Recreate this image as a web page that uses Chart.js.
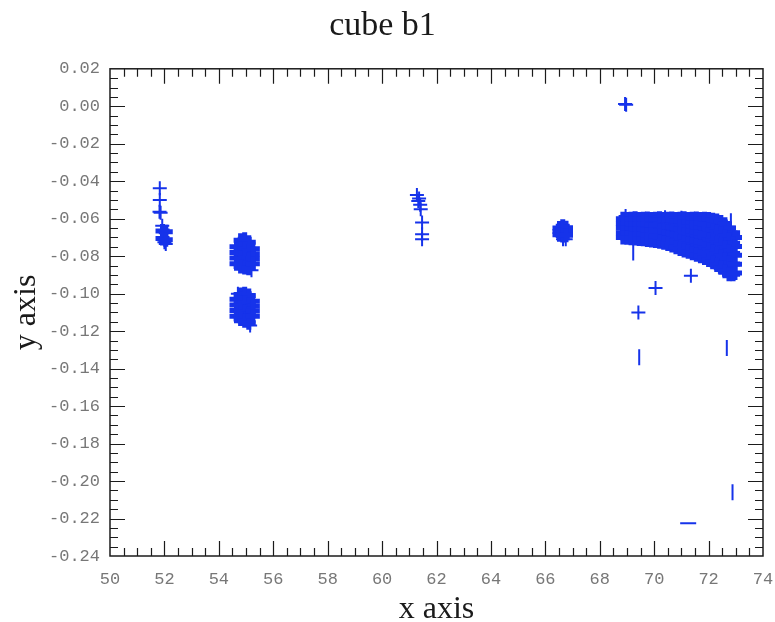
<!DOCTYPE html>
<html>
<head>
<meta charset="utf-8">
<title>cube b1</title>
<script src="https://cdn.jsdelivr.net/npm/chart.js@4.4.1/dist/chart.umd.min.js"></script>
<style>
  html, body { margin: 0; padding: 0; background: #fff; }
</style>
</head>
<body>
<canvas id="cubeChart" width="775" height="622"></canvas>
<script>
// --- data ---

// single "+" marks (small clusters and strays)
const crossX = [51.83, 51.83, 51.82, 51.86, 51.92, 52.00, 52.05,
                55.15, 55.20, 54.70,
                61.28, 61.36, 61.33, 61.40, 61.42, 61.47, 61.47, 61.47,
                66.65, 66.75,
                68.93, 68.97, 71.35, 70.05, 69.42, 68.95, 70.40, 71.00];
const crossY = [-0.0437, -0.0500, -0.0563, -0.0568, -0.0638, -0.0725, -0.0735,
                -0.1170, -0.0875, -0.1000,
                -0.0474, -0.0492, -0.0506, -0.0525, -0.0550, -0.0620, -0.0683, -0.0710,
                -0.0710, -0.0710,
                0.0012, 0.0008, -0.0905, -0.0970, -0.1100, -0.0585, -0.0592, -0.0595];

// marks that only show the vertical bar
const vBarX = [69.45, 72.67, 72.88, 69.23, 72.82];
const vBarY = [-0.134, -0.129, -0.206, -0.078, -0.0613];

// marks that only show the horizontal bar
const hBarX = [71.25];
const hBarY = [-0.2225];

// big dense band near x = 69..73 (columns of points, top to bottom)
const bigX   = [68.85, 69.00, 69.15, 69.30, 69.45, 69.60, 69.75, 69.90, 70.05, 70.20, 70.35, 70.50, 70.65, 70.80, 70.95,
                71.10, 71.25, 71.40, 71.55, 71.70, 71.85, 72.00, 72.15, 72.30, 72.45, 72.60, 72.75, 72.90, 72.97];
const bigTop = [-0.0600, -0.0602, -0.0600, -0.0598, -0.0601, -0.0600, -0.0599, -0.0601, -0.0600, -0.0598, -0.0601, -0.0600, -0.0599, -0.0601, -0.0600,
                -0.0598, -0.0601, -0.0600, -0.0599, -0.0601, -0.0600, -0.0602, -0.0605, -0.0610, -0.0618, -0.0630, -0.0650, -0.0675, -0.0700];
const bigM1  = [-0.0625, -0.0627, -0.0626, -0.0625, -0.0628, -0.0628, -0.0628, -0.0630, -0.0630, -0.0629, -0.0633, -0.0634, -0.0635, -0.0639, -0.0640,
                -0.0641, -0.0645, -0.0646, -0.0647, -0.0651, -0.0653, -0.0657, -0.0662, -0.0669, -0.0679, -0.0693, -0.0712, -0.0731, -0.0748];
const bigM2  = [-0.0650, -0.0652, -0.0652, -0.0652, -0.0655, -0.0655, -0.0656, -0.0659, -0.0660, -0.0661, -0.0665, -0.0668, -0.0671, -0.0677, -0.0681,
                -0.0684, -0.0689, -0.0693, -0.0696, -0.0701, -0.0705, -0.0712, -0.0719, -0.0729, -0.0740, -0.0755, -0.0774, -0.0786, -0.0795];
const bigM3  = [-0.0675, -0.0677, -0.0678, -0.0679, -0.0681, -0.0683, -0.0685, -0.0687, -0.0689, -0.0692, -0.0696, -0.0701, -0.0707, -0.0714, -0.0721,
                -0.0726, -0.0733, -0.0739, -0.0744, -0.0750, -0.0758, -0.0766, -0.0776, -0.0788, -0.0801, -0.0818, -0.0835, -0.0842, -0.0843];
const bigBot = [-0.0700, -0.0702, -0.0704, -0.0706, -0.0708, -0.0710, -0.0713, -0.0716, -0.0719, -0.0723, -0.0728, -0.0735, -0.0743, -0.0752, -0.0761,
                -0.0769, -0.0777, -0.0785, -0.0792, -0.0800, -0.0810, -0.0821, -0.0833, -0.0847, -0.0862, -0.0880, -0.0897, -0.0897, -0.0890];

// the two blobs at x ~ 55
const c55X  = [54.65, 54.80, 54.95, 55.10, 55.25];
const upTop = [-0.0750, -0.0715, -0.0710, -0.0725, -0.0760];
const upM1  = [-0.0780, -0.0762, -0.0760, -0.0772, -0.0787];
const upM2  = [-0.0810, -0.0808, -0.0810, -0.0818, -0.0813];
const upBot = [-0.0840, -0.0855, -0.0860, -0.0865, -0.0840];
const loTop = [-0.1030, -0.1005, -0.1000, -0.1010, -0.1040];
const loM1  = [-0.1060, -0.1048, -0.1048, -0.1058, -0.1067];
const loM2  = [-0.1090, -0.1092, -0.1097, -0.1107, -0.1093];
const loBot = [-0.1120, -0.1135, -0.1145, -0.1155, -0.1120];

// small blobs at x ~ 52 and x ~ 66.7
const c52X   = [51.93, 52.05];
const c52Top = [-0.0665, -0.0670];
const c52Bot = [-0.0705, -0.0712];
const c66X   = [66.52, 66.64, 66.76];
const c66Top = [-0.0650, -0.0640, -0.0648];
const c66Mid = [-0.0668, -0.0665, -0.0670];
const c66Bot = [-0.0685, -0.0690, -0.0688];

// axes
const xMin = 50, xMax = 74, xStep = 2, xMinor = 0.5;
const yMin = -0.24, yMax = 0.02, yStep = 0.02, yMinor = 0.005;

const markColor = '#1633ea';

function pairs(xs, ys) {
  return xs.map((v, i) => ({ x: v, y: ys[i] }));
}
function columns(xs, ...levels) {
  return levels.flatMap(l => pairs(xs, l));
}

// black frame with inward major/minor ticks on all four sides
const frameTicks = {
  id: 'frameTicks',
  afterDatasetsDraw(chart) {
    const { ctx, chartArea: a, scales: { x, y } } = chart;
    ctx.save();
    ctx.strokeStyle = '#1b1b1b';
    ctx.lineWidth = 1.5;
    ctx.strokeRect(a.left, a.top, a.right - a.left, a.bottom - a.top);
    ctx.lineWidth = 1.2;
    ctx.beginPath();
    const nx = Math.round((x.max - x.min) / xMinor);
    for (let i = 1; i < nx; i++) {
      const px = Math.round(x.getPixelForValue(x.min + i * xMinor)) + 0.5;
      const len = i % 4 === 0 ? 15 : 8;
      ctx.moveTo(px, a.bottom); ctx.lineTo(px, a.bottom - len);
      ctx.moveTo(px, a.top);    ctx.lineTo(px, a.top + len);
    }
    const ny = Math.round((y.max - y.min) / yMinor);
    for (let i = 1; i < ny; i++) {
      const py = Math.round(y.getPixelForValue(y.min + i * yMinor)) + 0.5;
      const len = i % 4 === 0 ? 15 : 8;
      ctx.moveTo(a.left, py);  ctx.lineTo(a.left + len, py);
      ctx.moveTo(a.right, py); ctx.lineTo(a.right - len, py);
    }
    ctx.stroke();
    ctx.restore();
  }
};

const tickFont  = { family: "'Liberation Mono', 'DejaVu Sans Mono', monospace", size: 17 };
const titleFont = { family: "'Liberation Serif', 'DejaVu Serif', serif", size: 32, lineHeight: 0.8 };

new Chart(document.getElementById('cubeChart').getContext('2d'), {
  type: 'scatter',
  data: {
    datasets: [
      {
        label: 'dense',
        data: [
          ...columns(bigX, bigTop, bigM1, bigM2, bigM3, bigBot),
          ...columns(c55X, upTop, upM1, upM2, upBot),
          ...columns(c55X, loTop, loM1, loM2, loBot),
          ...columns(c52X, c52Top, c52Bot),
          ...columns(c66X, c66Top, c66Mid, c66Bot)
        ],
        pointStyle: 'cross',
        pointRadius: 7,
        borderWidth: 5,
        borderColor: markColor,
        backgroundColor: markColor
      },
      {
        label: 'points',
        data: pairs(crossX, crossY),
        pointStyle: 'cross',
        pointRadius: 7,
        borderWidth: 2,
        borderColor: markColor,
        backgroundColor: markColor
      },
      {
        label: 'vbars',
        data: pairs(vBarX, vBarY),
        pointStyle: 'line',
        pointRotation: 90,
        pointRadius: 8,
        borderWidth: 2,
        borderColor: markColor,
        backgroundColor: markColor
      },
      {
        label: 'hbars',
        data: pairs(hBarX, hBarY),
        pointStyle: 'line',
        pointRadius: 8,
        borderWidth: 2,
        borderColor: markColor,
        backgroundColor: markColor
      }
    ]
  },
  options: {
    responsive: false,
    animation: false,
    devicePixelRatio: 1,
    events: [],
    layout: { padding: { left: 0, right: 10, top: 0, bottom: 0 } },
    scales: {
      x: {
        type: 'linear',
        min: xMin, max: xMax,
        grid: { display: false, drawTicks: false },
        border: { display: false },
        ticks: { stepSize: xStep, font: tickFont, color: '#777', padding: 13, maxRotation: 0, autoSkip: false },
        title: { display: true, text: 'x axis', font: titleFont, color: '#1a1a1a', padding: { top: 0, bottom: 0 } },
        afterFit: s => { s.height = 66; s.paddingLeft = 0; s.paddingRight = 0; }
      },
      y: {
        type: 'linear',
        min: yMin, max: yMax,
        grid: { display: false, drawTicks: false },
        border: { display: false },
        ticks: {
          stepSize: yStep, font: tickFont, color: '#777', padding: 10, autoSkip: false,
          callback: v => (Math.abs(v) < 1e-9 ? 0 : v).toFixed(2)
        },
        title: { display: true, text: 'y axis', font: titleFont, color: '#1a1a1a', padding: { top: 14, bottom: 0 } },
        afterFit: s => { s.width = 110; s.paddingTop = 0; s.paddingBottom = 0; }
      }
    },
    plugins: {
      legend: { display: false },
      tooltip: { enabled: false },
      title: {
        display: true,
        text: 'cube b1',
        color: '#1a1a1a',
        font: { family: "'Liberation Serif', 'DejaVu Serif', serif", size: 34, weight: 'normal', lineHeight: 1.2 },
        padding: { top: 6, bottom: 22 }
      }
    }
  },
  plugins: [frameTicks]
});
</script>
</body>
</html>
